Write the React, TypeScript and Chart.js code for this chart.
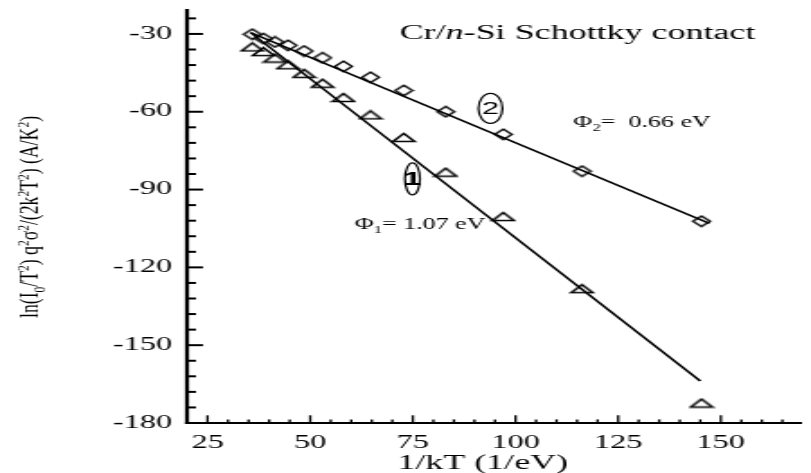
import React, { useEffect, useRef } from 'react';
import { Chart, registerables } from 'chart.js';

Chart.register(...registerables);

// ---------- data ----------
const invKT = [35.9, 38.6, 41.4, 44.6, 48.5, 53.0, 58.1, 64.7, 72.8, 83.0, 97.0, 116.2, 145.3];
const curve1 = [-35.0, -36.8, -39.3, -41.9, -45.2, -49.0, -54.5, -61.2, -69.9, -83.3, -100.4, -128.2, -172.3];
const curve2 = [-30.1, -31.8, -33.1, -34.4, -36.6, -39.2, -42.5, -46.7, -51.8, -60.0, -68.7, -82.9, -102.2];
const fit1X = [35.5, 145.0];
const fit1Y = [-29.5, -163.8];
const fit2X = [35.5, 147.2];
const fit2Y = [-29.5, -103.0];
const xTickLabels = [25, 50, 75, 100, 125, 150];
const yTickLabels = [-30, -60, -90, -120, -150, -180];
const xMinorStep = 5;
const yMinorStep = 6;
const xRange = [20, 168.9];
const yRange = [-180, -20];

// ---------- geometry of the stretched source figure ----------
const OUT_W = 811;
const OUT_H = 473;
const CW = Math.round(OUT_W / 1.8);
const SX = OUT_W / CW; // horizontal stretch

const SERIF = '"Liberation Serif", "Times New Roman", serif';
const SANS = '"Liberation Sans", Arial, sans-serif';

type Seg = { t: string; k?: 'sup' | 'sub' | 'i' };

function richWidth(ctx: CanvasRenderingContext2D, segs: Seg[], base: number) {
  let w = 0;
  for (const s of segs) {
    const size = s.k === 'sup' || s.k === 'sub' ? base * 0.65 : base;
    ctx.font = `${s.k === 'i' ? 'italic ' : ''}${size}px ${SERIF}`;
    w += ctx.measureText(s.t).width;
  }
  return w;
}

function drawRich(ctx: CanvasRenderingContext2D, segs: Seg[], x: number, y: number, base: number) {
  let cx = x;
  for (const s of segs) {
    const size = s.k === 'sup' || s.k === 'sub' ? base * 0.65 : base;
    ctx.font = `${s.k === 'i' ? 'italic ' : ''}${size}px ${SERIF}`;
    const dy = s.k === 'sup' ? -base * 0.42 : s.k === 'sub' ? base * 0.25 : 0;
    ctx.fillText(s.t, cx, y + dy);
    cx += ctx.measureText(s.t).width;
  }
}

// draw rich text horizontally compressed by factor k around its start point
function drawRichScaled(ctx: CanvasRenderingContext2D, segs: Seg[], x: number, y: number, base: number, k: number) {
  ctx.save();
  ctx.translate(x, y);
  ctx.scale(k, 1);
  drawRich(ctx, segs, 0, 0, base);
  ctx.restore();
}

function makeTriangle() {
  const c = document.createElement('canvas');
  c.width = 15;
  c.height = 11;
  const g = c.getContext('2d')!;
  g.strokeStyle = '#000';
  g.lineWidth = 1.5;
  g.beginPath();
  g.moveTo(1.5, 9.5);
  g.lineTo(7.5, 1.5);
  g.lineTo(13.5, 9.5);
  g.closePath();
  g.stroke();
  return c;
}

function makeDiamond() {
  const c = document.createElement('canvas');
  c.width = 12;
  c.height = 13;
  const g = c.getContext('2d')!;
  g.strokeStyle = '#000';
  g.lineWidth = 1.4;
  g.beginPath();
  g.moveTo(6, 1.2);
  g.lineTo(10.8, 6.5);
  g.lineTo(6, 11.8);
  g.lineTo(1.2, 6.5);
  g.closePath();
  g.stroke();
  return c;
}

const overlay = {
  id: 'overlay',
  afterDraw(chart: any) {
    const { ctx, chartArea: ca, scales } = chart;
    const xs = scales.x;
    const ys = scales.y;
    ctx.save();
    ctx.strokeStyle = '#000';
    ctx.fillStyle = '#000';
    ctx.lineCap = 'butt';

    // axis lines
    ctx.lineWidth = 4 / SX;
    ctx.beginPath();
    ctx.moveTo(ca.left, ca.top + 1);
    ctx.lineTo(ca.left, ca.bottom + 1);
    ctx.stroke();
    ctx.lineWidth = 2;
    ctx.beginPath();
    ctx.moveTo(ca.left - 2 / SX, ca.bottom);
    ctx.lineTo(ca.right + 2, ca.bottom);
    ctx.stroke();

    // y ticks (inside)
    ctx.lineWidth = 2;
    for (let v = yRange[0]; v < yRange[1]; v += yMinorStep) {
      const py = ys.getPixelForValue(v);
      const major = yTickLabels.includes(v);
      const len = (major ? 16 : 9) / SX;
      ctx.beginPath();
      ctx.moveTo(ca.left, py);
      ctx.lineTo(ca.left + len, py);
      ctx.stroke();
    }
    // x ticks (inside)
    ctx.lineWidth = 2.4 / SX;
    for (let v = xRange[0] + xMinorStep; v < xRange[1]; v += xMinorStep) {
      const px = xs.getPixelForValue(v);
      const major = xTickLabels.includes(v);
      const len = major ? 7.7 : 3.6;
      ctx.beginPath();
      ctx.moveTo(px, ca.bottom);
      ctx.lineTo(px, ca.bottom - len);
      ctx.stroke();
    }

    ctx.textAlign = 'left';
    ctx.textBaseline = 'alphabetic';

    // title annotation
    drawRich(
      ctx,
      [{ t: 'Cr/' }, { t: 'n', k: 'i' }, { t: '-Si Schottky contact' }],
      xs.getPixelForValue(71.8),
      ys.getPixelForValue(-32.0),
      20
    );

    // barrier heights
    drawRichScaled(ctx, [{ t: 'Φ' }, { t: '2', k: 'sub' }, { t: '=  0.66 eV' }], xs.getPixelForValue(114.1), ys.getPixelForValue(-65.8), 17, 0.85);
    drawRichScaled(ctx, [{ t: 'Φ' }, { t: '1', k: 'sub' }, { t: '= 1.07 eV' }], xs.getPixelForValue(60.8), ys.getPixelForValue(-105.3), 17, 0.85);

    // circled curve numbers
    ctx.lineWidth = 1.2;
    const marks = [
      { t: '1', x: 74.9, y: -85.9, rx: 7.5, ry: 16, font: `bold 19px ${SANS}` },
      { t: '2', x: 93.9, y: -58.7, rx: 12, ry: 15, font: `17px ${SANS}` },
    ];
    for (const m of marks) {
      const cx = xs.getPixelForValue(m.x);
      const cy = ys.getPixelForValue(m.y);
      ctx.beginPath();
      ctx.ellipse(cx, cy, m.rx / SX, m.ry, 0, 0, Math.PI * 2);
      ctx.stroke();
      ctx.font = m.font;
      ctx.textAlign = 'center';
      ctx.textBaseline = 'middle';
      ctx.fillText(m.t, cx, cy + 1);
    }

    // x axis title
    ctx.textAlign = 'left';
    ctx.textBaseline = 'alphabetic';
    const xt: Seg[] = [{ t: '1/kT (1/eV)' }];
    const xw = richWidth(ctx, xt, 20);
    drawRich(ctx, xt, xs.getPixelForValue(92) - xw / 2, 469, 20);

    // y axis title (rotated, glyph height compressed like the source)
    const yt: Seg[] = [
      { t: 'ln(I' }, { t: '0', k: 'sub' }, { t: '/T' }, { t: '2', k: 'sup' }, { t: ') q' }, { t: '2', k: 'sup' },
      { t: 'σ' }, { t: '2', k: 'sup' }, { t: '/(2k' }, { t: '2', k: 'sup' }, { t: 'T' }, { t: '2', k: 'sup' },
      { t: ') (A/K' }, { t: '2', k: 'sup' }, { t: ')' },
    ];
    const yFont = 17.7;
    const yw = richWidth(ctx, yt, yFont);
    ctx.save();
    ctx.translate(38.5 / SX, 217);
    ctx.rotate(-Math.PI / 2);
    ctx.scale(1, 0.77);
    drawRich(ctx, yt, -yw / 2, 0, yFont);
    ctx.restore();

    ctx.restore();
  },
};

export default function App() {
  const ref = useRef<HTMLCanvasElement | null>(null);

  useEffect(() => {
    const canvas = ref.current!;
    const tri = makeTriangle();
    const dia = makeDiamond();
    const xTicks: number[] = [];
    for (let v = xRange[0]; v <= xRange[1]; v += xMinorStep) xTicks.push(v);
    const yTicks: number[] = [];
    for (let v = yRange[0]; v <= yRange[1]; v += yMinorStep) yTicks.push(v);

    const tickFont = { family: SERIF, size: 18 };

    const chart = new Chart(canvas, {
      type: 'scatter',
      data: {
        datasets: [
          {
            label: 'fit 1',
            data: fit1X.map((x, i) => ({ x, y: fit1Y[i] })),
            showLine: true,
            borderColor: '#000',
            borderWidth: 1.6,
            pointRadius: 0,
          },
          {
            label: 'fit 2',
            data: fit2X.map((x, i) => ({ x, y: fit2Y[i] })),
            showLine: true,
            borderColor: '#000',
            borderWidth: 1.6,
            pointRadius: 0,
          },
          {
            label: 'curve 1',
            data: invKT.map((x, i) => ({ x, y: curve1[i] })),
            pointStyle: tri as any,
            pointRadius: 6,
            showLine: false,
          },
          {
            label: 'curve 2',
            data: invKT.map((x, i) => ({ x, y: curve2[i] })),
            pointStyle: dia as any,
            pointRadius: 6,
            showLine: false,
          },
        ],
      },
      options: {
        responsive: false,
        animation: false,
        devicePixelRatio: 1,
        layout: { padding: { top: 8, left: 0, right: 0, bottom: 0 } },
        plugins: { legend: { display: false }, tooltip: { enabled: false } },
        scales: {
          x: {
            type: 'linear',
            min: xRange[0],
            max: xRange[1],
            grid: { display: false, drawTicks: false },
            border: { display: false },
            afterBuildTicks: (s: any) => {
              s.ticks = xTicks.map((value) => ({ value }));
            },
            afterFit: (s: any) => {
              s.height = 50;
              s.paddingLeft = 0;
              s.paddingRight = 0;
              s.paddingTop = 0;
              s.paddingBottom = 0;
            },
            ticks: {
              autoSkip: false,
              maxRotation: 0,
              padding: 9,
              color: '#000',
              font: tickFont,
              callback: (v: any) => (xTickLabels.includes(Number(v)) ? String(v) : ''),
            },
          },
          y: {
            type: 'linear',
            min: yRange[0],
            max: yRange[1],
            grid: { display: false, drawTicks: false },
            border: { display: false },
            afterBuildTicks: (s: any) => {
              s.ticks = yTicks.map((value) => ({ value }));
            },
            afterFit: (s: any) => {
              s.width = 187 / SX;
              s.paddingLeft = 0;
              s.paddingRight = 0;
              s.paddingTop = 0;
              s.paddingBottom = 0;
            },
            ticks: {
              autoSkip: false,
              padding: 15 / SX,
              color: '#000',
              font: tickFont,
              callback: (v: any) => (yTickLabels.includes(Number(v)) ? String(v) : ''),
            },
          },
        },
      },
      plugins: [overlay],
    });
    return () => chart.destroy();
  }, []);

  return (
    <div style={{ position: 'fixed', left: 0, top: 0, width: OUT_W, height: OUT_H, background: '#fff' }}>
      <canvas ref={ref} width={CW} height={OUT_H} style={{ width: `${OUT_W}px`, height: `${OUT_H}px`, display: 'block' }} />
    </div>
  );
}
